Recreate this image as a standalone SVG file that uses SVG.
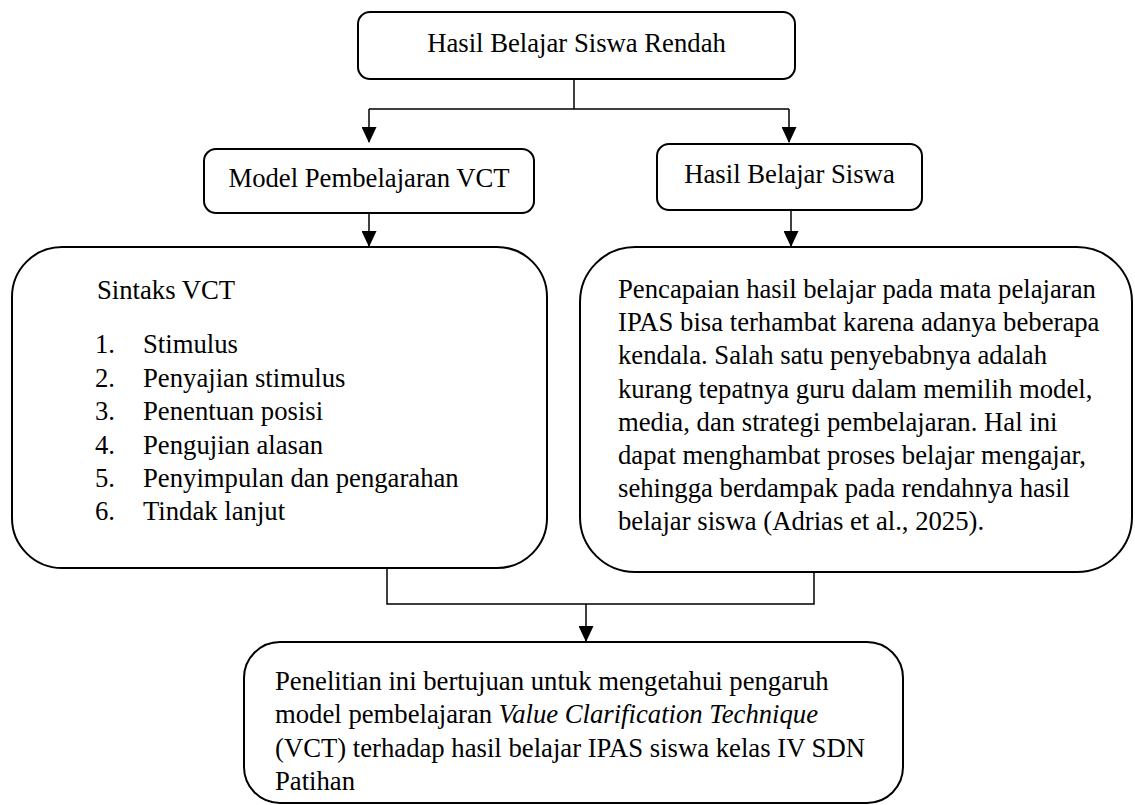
<svg xmlns="http://www.w3.org/2000/svg" width="1135" height="805" viewBox="0 0 1135 805">
<style>
.box{fill:#fff;stroke:#000;stroke-width:2}
.t{font-family:"Liberation Serif","Times New Roman",serif;font-size:26.7px;fill:#000}
.c{text-anchor:middle}
.ln{fill:none;stroke:#000;stroke-width:1.5}
</style>
<defs>
<marker id="ah" viewBox="0 0 16 15" refX="15" refY="7.5" markerWidth="16" markerHeight="15" markerUnits="userSpaceOnUse" orient="auto">
<path d="M0,0 L16,7.5 L0,15 z" fill="#000"/>
</marker>
</defs>
<rect width="1135" height="805" fill="#fff"/>
<g id="connectors">
<path class="ln" d="M574 79 V109 M369 109 H789"/>
<path class="ln" d="M369 109 V142" marker-end="url(#ah)"/>
<path class="ln" d="M789 109 V142" marker-end="url(#ah)"/>
<path class="ln" d="M369 213 V246" marker-end="url(#ah)"/>
<path class="ln" d="M791 210 V246" marker-end="url(#ah)"/>
<path class="ln" d="M387 568 V604 H814 V572"/>
<path class="ln" d="M586 604 V641" marker-end="url(#ah)"/>
</g>
<g id="n_top">
<rect class="box" x="358" y="12" width="437" height="67" rx="12"/>
<text class="t c" x="576.5" y="52">Hasil Belajar Siswa Rendah</text>
</g>
<g id="n_model">
<rect class="box" x="204" y="149" width="330" height="64" rx="12"/>
<text class="t c" x="369" y="187">Model Pembelajaran VCT</text>
</g>
<g id="n_hasil">
<rect class="box" x="657" y="144" width="265" height="66" rx="12"/>
<text class="t c" x="789.5" y="183">Hasil Belajar Siswa</text>
</g>
<g id="n_sintaks">
<rect class="box" x="12" y="247" width="535" height="321" rx="50"/>
<text class="t" x="97" y="299">Sintaks VCT</text>
<text class="t" x="95" y="353">1.</text><text class="t" x="143" y="353">Stimulus</text>
<text class="t" x="95" y="386.5">2.</text><text class="t" x="143" y="386.5">Penyajian stimulus</text>
<text class="t" x="95" y="420">3.</text><text class="t" x="143" y="420">Penentuan posisi</text>
<text class="t" x="95" y="453.5">4.</text><text class="t" x="143" y="453.5">Pengujian alasan</text>
<text class="t" x="95" y="487">5.</text><text class="t" x="143" y="487">Penyimpulan dan pengarahan</text>
<text class="t" x="95" y="520">6.</text><text class="t" x="143" y="520">Tindak lanjut</text>
</g>
<g id="n_pencapaian">
<rect class="box" x="580" y="247" width="552" height="325" rx="55"/>
<text class="t" x="618" y="298">Pencapaian hasil belajar pada mata pelajaran</text>
<text class="t" x="618" y="331.2">IPAS bisa terhambat karena adanya beberapa</text>
<text class="t" x="618" y="364.4">kendala. Salah satu penyebabnya adalah</text>
<text class="t" x="618" y="397.6">kurang tepatnya guru dalam memilih model,</text>
<text class="t" x="618" y="430.8">media, dan strategi pembelajaran. Hal ini</text>
<text class="t" x="618" y="464">dapat menghambat proses belajar mengajar,</text>
<text class="t" x="618" y="497.2">sehingga berdampak pada rendahnya hasil</text>
<text class="t" x="618" y="530.4">belajar siswa (Adrias et al., 2025).</text>
</g>
<g id="n_penelitian">
<rect class="box" x="244" y="642" width="659" height="161" rx="36"/>
<text class="t" x="275" y="690">Penelitian ini bertujuan untuk mengetahui pengaruh</text>
<text class="t" x="275" y="723.3">model pembelajaran <tspan font-style="italic">Value Clarification Technique</tspan></text>
<text class="t" x="275" y="756.6">(VCT) terhadap hasil belajar IPAS siswa kelas IV SDN</text>
<text class="t" x="275" y="790">Patihan</text>
</g>
</svg>
